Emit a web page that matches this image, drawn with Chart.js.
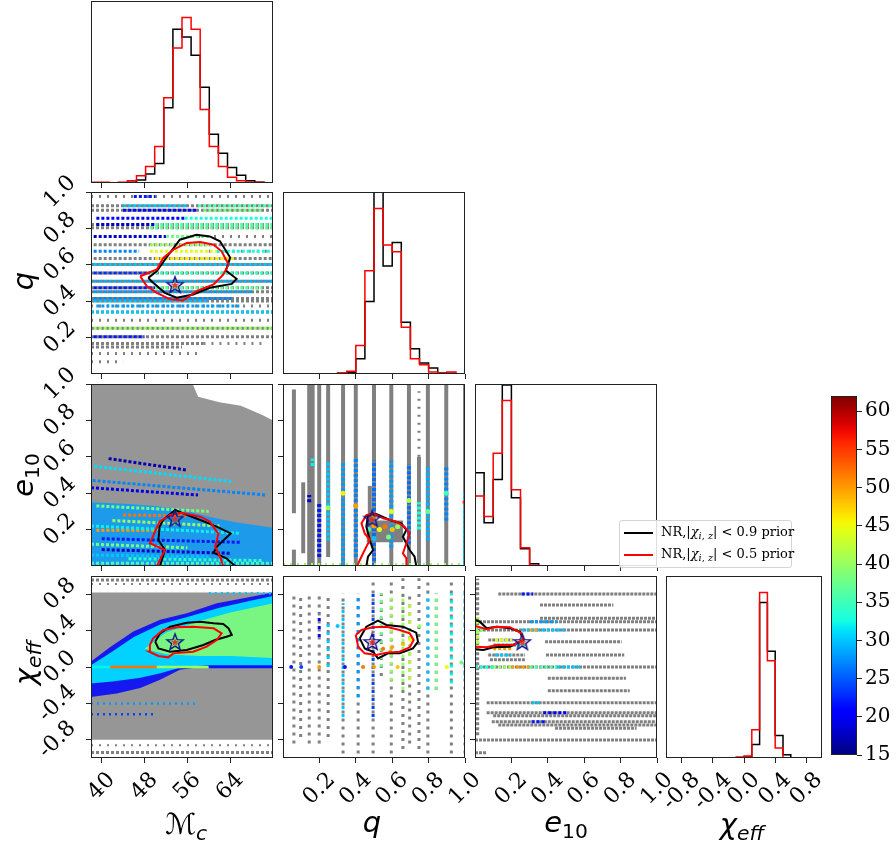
<!DOCTYPE html>
<html><head><meta charset="utf-8">
<script src="https://cdn.jsdelivr.net/npm/chart.js@4.4.1/dist/chart.umd.min.js"></script>
<style>
html,body{margin:0;padding:0;background:#fff;}
#wrap{position:relative;width:896px;height:841px;overflow:hidden;background:#fff;}
#wrap canvas{position:absolute;}
.lab{position:absolute;font-family:'DejaVu Sans';font-size:29px;color:#000;white-space:nowrap;line-height:1;}
.lab i{font-style:italic;}
.lab sub{font-size:0.7em;vertical-align:-0.3em;line-height:0;}
.vert{transform:translate(-50%,-50%) rotate(-90deg);}
.hor{transform:translate(-50%,-50%);}
#legend{position:absolute;left:619px;top:520px;width:173px;height:48px;border:1px solid #d4d4d4;border-radius:3px;background:rgba(255,255,255,0.85);font-family:'DejaVu Serif';font-size:13px;box-sizing:border-box;}
.lrow{position:absolute;left:0;height:20px;width:100%;}
.lline{position:absolute;left:4px;top:9px;width:29px;height:2px;}
.ltxt{position:absolute;left:41px;top:1px;white-space:nowrap;}
.ltxt sub{font-size:0.75em;vertical-align:-0.3em;line-height:0;}
</style></head><body><div id="wrap"></div>
<script>
// ---------------- DATA ----------------
const CB_MIN = 15, CB_MAX = 62;
const cbTicks = [15,20,25,30,35,40,45,50,55,60];

const mcTicks = [40,48,56,64];           const mcTickLabels = ['40','48','56','64'];
const qTicks = [0.2,0.4,0.6,0.8,1.0];    const qTickLabels = ['0.2','0.4','0.6','0.8','1.0'];
const eTicks = [0.2,0.4,0.6,0.8,1.0];    const eTickLabels = ['0.2','0.4','0.6','0.8','1.0'];
const chiTicks = [-0.8,-0.4,0.0,0.4,0.8]; const chiTickLabels = ['-0.8','-0.4','0.0','0.4','0.8'];

// truth (star)
const truthMc = 53.7, truthQ = 0.49, truthE = 0.26, truthChi = 0.275;

// histograms
const mcEdges = [38,39.7,41.4,43.1,44.8,46.5,48.2,49.9,51.6,53.3,55,56.7,58.4,60.1,61.8,63.5,65.2,66.9,68.6,70.3,72];
const mcHist09 = [0,0,0,0,2,9,27,59,227,464,440,385,289,147,90,47,23,7,2,0];
const mcHist05 = [2,2,0,2,7,22,50,110,257,407,499,464,222,110,50,17,7,2,2,0];
const qEdges = [0,0.05,0.1,0.15,0.2,0.25,0.3,0.35,0.4,0.45,0.5,0.55,0.6,0.65,0.7,0.75,0.8,0.85,0.9,0.95,1.0];
const qHist09 = [0,0,0,0,0,0,2,5,46,218,600,325,396,156,76,33,18,3,2,0];
const qHist05 = [0,0,0,0,0,1,3,8,86,311,498,388,368,141,46,28,6,3,6,0];
const eEdges = [0,0.05,0.1,0.15,0.2,0.25,0.3,0.35,0.4,0.45,0.5,0.55,0.6,0.65,0.7,0.75,0.8,0.85,0.9,0.95,1.0];
const eHist09 = [280,130,260,544,205,52,7,0,0,0,0,0,0,0,0,0,0,0,0,0];
const eHist05 = [210,149,339,497,229,55,2,0,0,0,0,0,0,0,0,0,0,0,0,0];
const chiEdges = [-1,-0.9,-0.8,-0.7,-0.6,-0.5,-0.4,-0.3,-0.2,-0.1,0,0.1,0.2,0.3,0.4,0.5,0.6,0.7,0.8,0.9,1.0];
const chiHist09 = [0,0,0,0,0,0,0,0,0,1,3,41,468,321,68,10,0,0,0,0];
const chiHist05 = [0,0,0,0,0,0,0,0,0,3,6,85,498,293,30,0,0,0,0,0];

// Panel A: Mc vs q (horizontal NR rows)
const aGrayQ    = [0.925,0.900,0.822,0.804,0.710,0.634,0.601,0.555,0.510,0.474,0.452,0.415,0.401,0.341,0.251,0.204,0.168,0.149];
const aGrayFrom = [38,38,38,38,38.5,38.5,38,38,38,38,38,38,38,38,38,38,38,38];
const aGrayTo   = [72,72,72,72,72,72,72,72,72,72,72,72,72,72,72,72,59,55];
const aSparseQ    = [0.975,0.756,0.674,0.373,0.295,0.168,0.113,0.067];
const aSparseFrom = [38,55,60,38,38,59,38,38];
const aSparseTo   = [72,72,72,72,72,70,58,44];
const aColQ    = [0.975,0.925,0.925,0.900,0.900,0.856,0.856,0.822,0.822,0.804,0.756,0.756,0.710,0.674,0.674,0.674,0.634,0.601,0.555,0.555,0.510,0.474,0.474,0.452,0.415,0.401,0.373,0.341,0.251,0.204];
const aColFrom = [46,44,58,44,59,39,55.5,39,50,49,38.5,52,49,38.5,49,61.5,50,38.5,38.5,49,38.5,38.5,50,38.5,38.5,38.5,39,38,38.5,38.5];
const aColTo   = [50,56,72,58,70,55.5,72,50,72,72,52,60,61,47,61.5,72,64.6,72,49,72,72,50,70,68,64.6,60,66,72,72,48];
const aColVal  = [22,30,36,20,38,21,33,18,36,37,18,38,40,27,44,33,46,30,23,35,29,22,37,28,27,30,28,30,40,22];
const aBlackMc = [48.7,50.3,52.1,54.6,57.7,60.2,62.1,64.0,63.2,65.2,64.3,60.2,57.1,54.0,51.8,49.3,48.7];
const aBlackQ  = [0.528,0.565,0.640,0.738,0.765,0.756,0.729,0.640,0.568,0.523,0.495,0.474,0.437,0.419,0.446,0.510,0.528];
const aRedMc = [47.2,50.3,51.5,53.4,55.9,58.4,60.9,62.4,63.7,62.7,60.9,57.7,55.2,52.8,50.3,48.4,47.2];
const aRedQ  = [0.537,0.574,0.638,0.683,0.720,0.725,0.710,0.674,0.601,0.546,0.492,0.455,0.404,0.410,0.446,0.483,0.537];

// Panel B: Mc vs e10
const bGrayMc = [38,38,57,58,62,66,70,72,72];
const bGrayE  = [0,1,1,0.93,0.90,0.88,0.83,0.80,0];
const bColMc = [38,45,50,55,60,65,72,72,38];
const bColE  = [0.35,0.34,0.33,0.31,0.27,0.24,0.21,0,0];
const bStreakMc1 = [41.3,38.6,38.3,38,39,44,39,38,42,38,38,40,38,40,45];
const bStreakE1  = [0.59,0.548,0.47,0.43,0.33,0.28,0.196,0.22,0.25,0.12,0.06,0.15,0.015,0.09,0.04];
const bStreakMc2 = [55.9,64.6,70.8,58,60,56,50,66,62,56,60,66,72,64,70];
const bStreakE2  = [0.527,0.463,0.39,0.39,0.30,0.275,0.196,0.18,0.22,0.10,0.05,0.13,0.015,0.07,0.03];
const bStreakVal = [17,31,27,19,38,52,50,32,40,38,30,22,35,18,34];
const bRedMc = [50.3,51.8,49.0,50.8,52.8,54.9,58.4,60.2,61.8,61.2,62.1,62.7];
const bRedE  = [0,0.088,0.125,0.244,0.280,0.293,0.271,0.244,0.176,0.106,0.051,0];
const bBlackMc = [50.9,51.8,50.6,50.8,51.5,53.7,55.2,58.4,61.5,64.1,61.5,60.9,63.3,64.9];
const bBlackE  = [0,0.088,0.143,0.216,0.253,0.308,0.289,0.253,0.216,0.179,0.106,0.073,0.042,0];

// Panel C: Mc vs chi_eff
const cGrayMc = [38,38,72,72];
const cGrayChi = [-0.80,0.82,0.82,-0.80];
const cRowChi  = [0.956,-0.94];
const cSparseChi = [0.912,-0.86];
const cOutMc  = [38,41.6,45.9,50.9,55.9,61.5,67.7,72,72,58.4,54.6,50.9,47.2,42.8,38];
const cOutChi = [0.06,0.22,0.39,0.52,0.59,0.70,0.77,0.82,0.0,0.0,-0.03,-0.14,-0.23,-0.29,-0.33];
const cMidMc  = [38,42,46,51,56,62,68,72,72,60,55,51,47,42,38];
const cMidChi = [0.02,0.17,0.33,0.47,0.55,0.65,0.73,0.78,0.02,0.02,0.0,-0.07,-0.12,-0.16,-0.18];
const cHiMc  = [48,52,58,64,72,72,64,58,52];
const cHiChi = [0.20,0.38,0.50,0.60,0.70,0.10,0.12,0.12,0.14];
const cRegionVal = [21,31,40];
const cSegMc1  = [38,41.6,50.3,60,60,38,38];
const cSegMc2  = [41.6,50.3,60,72,72,58,50];
const cSegChi  = [0,0,0,0,0.81,-0.40,-0.52];
const cSegVal  = [32,52,40,22,30,28,24];
const cBlackMc = [50.0,50.9,52.8,55.9,58.4,60.9,62.7,63.7,64.3,63.3,61.2,59.0,55.9,52.8,50.6,50.0];
const cBlackChi= [0.278,0.370,0.443,0.487,0.498,0.480,0.473,0.425,0.352,0.333,0.297,0.242,0.187,0.168,0.205,0.278];
const cRedMc = [49.0,49.6,51.5,54.0,57.1,60.9,62.4,61.5,59.6,57.1,53.4,52.4,50.6,48.9,49.0];
const cRedChi= [0.242,0.315,0.407,0.436,0.443,0.425,0.370,0.297,0.223,0.168,0.150,0.106,0.121,0.168,0.242];

// Panel D: q vs e10 (vertical NR columns)
const dGrayQ    = [0.06,0.06,0.111,0.144,0.163,0.199,0.248,0.33,0.40,0.477,0.50,0.595,0.692,0.747,0.796,0.897,1.0];
const dGrayFrom = [0.29,0,0.07,0,0,0,0.05,0,0,0.12,0,0,0,0,0,0,0];
const dGrayTo   = [0.97,0.09,0.46,1,1,1,1,1,1,0.44,1,1,1,0.6,1,1,1];
const dSparseQ = [0.747]; const dSparseFrom = [0.6]; const dSparseTo = [0.96];
const dColQ    = [0.248,0.33,0.40,0.50,0.595,0.692,0.747,0.796,0.897,0.199,1.0,0.163,0.144];
const dColFrom = [0.14,0.0,0.05,0.0,0.10,0.12,0.20,0.14,0.25,0.05,0.0,0.55,0.35];
const dColTo   = [0.57,0.57,0.59,0.58,0.58,0.56,0.35,0.55,0.55,0.35,0.40,0.59,0.39];
const dColVal  = [30,28,27,26,28,26,33,29,27,22,30,32,18];
const dBlobQ = [0.46,0.66,0.66,0.46];
const dBlobE = [0.13,0.13,0.25,0.25];
const dPtQ   = [0.50,0.53,0.56,0.60,0.63,0.47,0.50,0.58,0.40,0.33,0.50,0.595,0.692,0.248,0.796,0.897,1.0];
const dPtE   = [0.22,0.20,0.215,0.20,0.215,0.20,0.15,0.16,0.33,0.40,0.27,0.30,0.36,0.32,0.30,0.40,0.35];
const dPtVal = [50,45,52,48,40,35,30,38,50,46,48,44,42,40,38,35,55];
const dBottomE = 0.008;
const dRedQ = [0.407,0.440,0.477,0.449,0.431,0.458,0.495,0.550,0.623,0.668,0.696,0.678,0.659,0.678,0.678];
const dRedE = [0,0.070,0.143,0.179,0.234,0.280,0.289,0.262,0.244,0.216,0.179,0.125,0.070,0.042,0];
const dBlackQ = [0.458,0.467,0.495,0.477,0.458,0.467,0.513,0.586,0.650,0.678,0.659,0.696,0.723,0.732];
const dBlackE = [0,0.051,0.088,0.143,0.216,0.280,0.286,0.253,0.234,0.198,0.161,0.088,0.051,0];

// Panel E: q vs chi_eff
const eGrayQ    = [0.06,0.097,0.144,0.199,0.248,0.33,0.413,0.495,0.54,0.595,0.659,0.696,0.747,0.796,0.842,0.925,1.0];
const eGrayFrom = [-0.84,-0.77,-0.84,-0.84,-0.77,-0.95,-0.95,-0.95,-0.10,-0.95,-0.90,-0.84,-0.90,-0.95,-0.25,-0.95,-0.95];
const eGrayTo   = [0.81,0.78,0.81,0.81,0.81,0.81,0.81,0.975,0.81,0.975,0.975,0.81,0.975,0.975,0.81,0.975,0.975];
const eColQ    = [0.199,0.248,0.33,0.413,0.495,0.54,0.595,0.659,0.696,0.796,0.842,0.925,1.0];
const eColFrom = [0.33,0.0,-0.55,-0.33,-0.55,0.0,-0.15,-0.25,-0.14,-0.25,-0.25,-0.18,-0.10];
const eColTo   = [0.60,0.52,0.70,0.81,0.81,0.81,0.81,0.81,0.70,0.81,0.81,0.81,0.81];
const eColVal  = [20,30,30,28,24,38,40,40,42,30,38,32,30];
const ePtQ   = [0.199,0.10,0.045,0.44,0.50,0.63,0.90,0.55,0.60,0.66,0.70,0.59,0.30,0.34,0.75,0.98];
const ePtChi = [0.0,0.0,0.0,0.0,0.0,0.0,0.0,0.20,0.22,0.25,0.30,0.17,0.45,0.0,0.45,0.05];
const ePtVal = [50,24,22,52,50,48,45,52,50,48,45,50,30,22,40,38];
const eBlackQ = [0.422,0.458,0.522,0.568,0.659,0.732,0.742,0.714,0.641,0.577,0.522,0.495,0.449,0.422];
const eBlackChi=[0.315,0.443,0.509,0.462,0.443,0.377,0.278,0.205,0.150,0.150,0.095,0.168,0.205,0.315];
const eRedQ = [0.400,0.431,0.495,0.568,0.641,0.696,0.718,0.696,0.641,0.568,0.513,0.449,0.413,0.400];
const eRedChi=[0.352,0.407,0.436,0.443,0.407,0.370,0.297,0.216,0.168,0.158,0.132,0.150,0.223,0.352];

// Panel F: e10 vs chi_eff
const fGrayChi  = [0.802,0.681,0.535,0.498,0.407,0.297,0.278,0.242,0.132,0.132,0.08,0.0,-0.124,-0.26,-0.392,-0.502,-0.535,-0.601,-0.637,-0.674,-0.802,-0.941];
const fGrayFrom = [0.128,0.357,0.357,0.0,0.0,0.073,0.385,0.101,0.073,0.39,0.082,0.0,0.40,0.40,0.064,0.064,0.10,0.092,0.128,0.44,0.0,0.0];
const fGrayTo   = [1.0,0.76,1.0,1.0,1.0,0.211,0.806,0.284,0.275,0.82,0.275,1.0,0.83,0.85,1.0,1.0,1.0,1.0,1.0,0.888,1.0,0.064];
const fColChi  = [0.802,0.498,0.407,0.407,0.407,0.0,0.0,0.0,0.0,0.0,-0.392,-0.502,-0.601,0.297,0.242,0.20,0.132];
const fColFrom = [0.256,0.302,0.0,0.256,0.30,0.0,0.10,0.20,0.30,0.45,0.311,0.375,0.311,0.11,0.12,0.10,0.11];
const fColTo   = [0.32,0.449,0.06,0.504,0.35,0.10,0.20,0.30,0.45,0.577,0.366,0.504,0.394,0.20,0.28,0.20,0.20];
const fColVal  = [22,28,38,30,50,33,40,50,36,30,30,20,22,44,32,50,30];
const fEdgeE = 0.012; const fEdgeFrom = -0.75; const fEdgeTo = 0.97;
const fEdgeColFrom = 0.2; const fEdgeColTo = 0.55; const fEdgeColVal = 42;
const fBlackE = [0,0.027,0.064,0.119,0.192,0.247,0.266,0.192,0.101,0.046,0];
const fBlackChi=[0.516,0.498,0.425,0.443,0.425,0.388,0.297,0.223,0.216,0.187,0.194];
const fRedE = [0,0.064,0.119,0.192,0.256,0.266,0.211,0.119,0.064,0];
const fRedChi=[0.451,0.414,0.443,0.437,0.370,0.300,0.242,0.242,0.216,0.223];

// ---------------- HELPERS ----------------
const GRAY = 'rgb(128,128,128)';
const GRAYFILL = 'rgb(150,150,150)';
const JR=[[0,0],[0.35,0],[0.66,1],[0.89,1],[1,0.5]];
const JG=[[0,0],[0.125,0],[0.375,1],[0.64,1],[0.91,0],[1,0]];
const JB=[[0,0.5],[0.11,1],[0.34,1],[0.65,0],[1,0]];
function interp(tab,t){for(let i=1;i<tab.length;i++){if(t<=tab[i][0]){const a=tab[i-1],b=tab[i];return a[1]+(b[1]-a[1])*(t-a[0])/(b[0]-a[0]);}}return tab[tab.length-1][1];}
function jetT(t,a){return `rgba(${Math.round(255*interp(JR,t))},${Math.round(255*interp(JG,t))},${Math.round(255*interp(JB,t))},${a==null?1:a})`;}
function jet(v,a){return jetT(Math.max(0,Math.min(1,(v-CB_MIN)/(CB_MAX-CB_MIN))),a);}

function lineDs(pts,color,width,dash){return {data:pts,borderColor:color,backgroundColor:color,borderWidth:width,borderDash:dash||[],pointRadius:0,fill:false,tension:0,clip:0,borderCapStyle:'butt'};}
function pts(xs,ys){return xs.map((x,i)=>({x:x,y:ys[i]}));}
function hRows(ys,from,to,colorFn,width,dash){return ys.map((y,i)=>lineDs([{x:from[i],y:y},{x:to[i],y:y}],colorFn(i),width,dash));}
function vRows(xs,from,to,colorFn,width,dash){return xs.map((x,i)=>lineDs([{x:x,y:from[i]},{x:x,y:to[i]}],colorFn(i),width,dash));}
function polyDs(xs,ys,fillColor){return {data:pts(xs,ys),borderColor:'rgba(0,0,0,0)',backgroundColor:fillColor,borderWidth:0,fill:'shape',pointRadius:0,tension:0,clip:0};}
function contourDs(xs,ys,color){return lineDs(pts(xs,ys),color,2);}
function dotsDs(xs,ys,vals,r){return {data:pts(xs,ys),showLine:false,pointRadius:r,pointBorderWidth:0,pointBackgroundColor:vals.map(v=>jet(v)),borderColor:'rgba(0,0,0,0)',clip:0};}
function histDs(edges,counts,color){
  const d=[{x:edges[0],y:0}];
  counts.forEach((c,i)=>d.push({x:edges[i],y:c}));
  d.push({x:edges[edges.length-1],y:counts[counts.length-1]});
  d.push({x:edges[edges.length-1],y:0});
  return {data:d,stepped:true,borderColor:color,borderWidth:1.5,pointRadius:0,fill:false,clip:0};
}
// star marker image
const starImg=(function(){const c=document.createElement('canvas');c.width=20;c.height=20;const g=c.getContext('2d');
  function star(R,r){g.beginPath();for(let k=0;k<10;k++){const rr=k%2?r:R;const a=-Math.PI/2+k*Math.PI/5;g.lineTo(10+rr*Math.cos(a),10.5+rr*Math.sin(a));}g.closePath();}
  star(4.2,1.8);g.fillStyle='rgba(230,40,20,0.9)';g.fill();
  star(8.6,3.6);g.strokeStyle='#14148a';g.lineWidth=1.4;g.stroke();return c;})();
function starDs(x,y){return {data:[{x:x,y:y}],showLine:false,pointStyle:starImg,pointRadius:10,borderWidth:0,clip:false};}

const wrap=document.getElementById('wrap');
const PL=90,PR=30,PT=30,PB=80;

function framePlugin(info){
  return {id:'frameLabels',afterDraw(chart){
    const ctx=chart.ctx,ca=chart.chartArea;ctx.save();
    ctx.strokeStyle='#222';ctx.lineWidth=1;
    ctx.strokeRect(Math.round(ca.left)+0.5,Math.round(ca.top)+0.5,Math.round(ca.right-ca.left)-1,Math.round(ca.bottom-ca.top)-1);
    const F=22;ctx.font=F+"px 'DejaVu Serif'";ctx.fillStyle='#000';ctx.textAlign='center';ctx.textBaseline='middle';
    const R=Math.SQRT1_2;
    if(info&&info.xl){const s=chart.scales.x;info.xl.forEach((t,i)=>{const w=ctx.measureText(t).width;const b=(w+F*1.1)*R;const px=s.getPixelForValue(info.xv[i]);
      ctx.save();ctx.translate(px,ca.bottom+10+b/2);ctx.rotate(-Math.PI/4);ctx.fillText(t,0,0);ctx.restore();});}
    if(info&&info.yl){const s=chart.scales.y;info.yl.forEach((t,i)=>{const w=ctx.measureText(t).width;const b=(w+F*1.1)*R;const py=s.getPixelForValue(info.yv[i]);
      ctx.save();ctx.translate(ca.left-10-b/2,py);ctx.rotate(-Math.PI/4);ctx.fillText(t,0,0);ctx.restore();});}
    ctx.restore();}};
}
function axis(min,max,ticks,isX,showTicks){
  return {type:'linear',min:min,max:max,display:true,
    afterBuildTicks:s=>{s.ticks=(ticks||[]).map(v=>({value:v}));},
    afterFit:s=>{if(isX)s.height=PB;else s.width=PL;},
    ticks:{display:false},
    grid:{display:showTicks,drawOnChartArea:false,drawTicks:true,tickLength:5,color:'#222',lineWidth:1},
    border:{display:false}};
}
function makeChart(left,top,w,h,datasets,xs,ys,info){
  const cv=document.createElement('canvas');const W=w+PL+PR,H=h+PT+PB;
  cv.width=W;cv.height=H;cv.style.left=(left-PL)+'px';cv.style.top=(top-PT)+'px';cv.style.width=W+'px';cv.style.height=H+'px';
  wrap.appendChild(cv);
  datasets.forEach((d,i)=>{d.order=datasets.length-i;});
  return new Chart(cv,{type:'line',data:{datasets:datasets},
    options:{responsive:false,animation:false,events:[],devicePixelRatio:1,
      layout:{padding:{top:PT,right:PR,left:0,bottom:0}},
      plugins:{legend:{display:false},tooltip:{enabled:false}},
      scales:{x:xs,y:ys}},
    plugins:[framePlugin(info)]});
}

const col=[91,283,475,666], cw=[182,182,182,156];
const row=[1,192,384,576], rh=182;
const MC=[38,72], Q=[0,1], E=[0,1], CH=[-1,1];
const GD=[3,2], SD=[2,6];

// ---- Diagonal histograms ----
makeChart(col[0],row[0],cw[0],rh,[histDs(mcEdges,mcHist09,'#000'),histDs(mcEdges,mcHist05,'#ff0000')],
  axis(MC[0],MC[1],mcTicks,true,true),axis(0,1.1*Math.max(...mcHist05),[],false,false),null);
makeChart(col[1],row[1],cw[1],rh,[histDs(qEdges,qHist09,'#000'),histDs(qEdges,qHist05,'#ff0000')],
  axis(Q[0],Q[1],qTicks,true,true),axis(0,1.1*Math.max(...qHist05),[],false,false),null);
makeChart(col[2],row[2],cw[2],rh,[histDs(eEdges,eHist09,'#000'),histDs(eEdges,eHist05,'#ff0000')],
  axis(E[0],E[1],eTicks,true,true),axis(0,1.1*Math.max(...eHist05),[],false,false),null);
makeChart(col[3],row[3],cw[3],rh,[histDs(chiEdges,chiHist09,'#000'),histDs(chiEdges,chiHist05,'#ff0000')],
  axis(CH[0],CH[1],chiTicks,true,true),axis(0,1.1*Math.max(...chiHist05),[],false,false),{xl:chiTickLabels,xv:chiTicks});

// ---- Panel A: Mc vs q ----
{
  const ds=[];
  ds.push(...hRows(aGrayQ,aGrayFrom,aGrayTo,()=>GRAY,3,GD));
  ds.push(...hRows(aSparseQ,aSparseFrom,aSparseTo,()=>GRAY,3,SD));
  ds.push(...hRows(aColQ,aColFrom,aColTo,i=>jet(aColVal[i]),3,[3,2]));
  ds.push(contourDs(aBlackMc,aBlackQ,'#000'));
  ds.push(contourDs(aRedMc,aRedQ,'#ff0000'));
  ds.push(starDs(truthMc,truthQ));
  makeChart(col[0],row[1],cw[0],rh,ds,axis(MC[0],MC[1],mcTicks,true,true),axis(Q[0],Q[1],qTicks,false,true),{yl:qTickLabels,yv:qTicks});
}
// ---- Panel B: Mc vs e10 ----
{
  const ds=[];
  ds.push(polyDs(bGrayMc,bGrayE,GRAYFILL));
  ds.push(polyDs(bColMc,bColE,jet(28,0.8)));
  ds.push(...bStreakVal.map((v,i)=>lineDs([{x:bStreakMc1[i],y:bStreakE1[i]},{x:bStreakMc2[i],y:bStreakE2[i]}],jet(v),3,[3,2])));
  ds.push(contourDs(bBlackMc,bBlackE,'#000'));
  ds.push(contourDs(bRedMc,bRedE,'#ff0000'));
  ds.push(starDs(truthMc,truthE));
  makeChart(col[0],row[2],cw[0],rh,ds,axis(MC[0],MC[1],mcTicks,true,true),axis(E[0],E[1],eTicks,false,true),{yl:eTickLabels,yv:eTicks});
}
// ---- Panel C: Mc vs chi ----
{
  const ds=[];
  ds.push(polyDs(cGrayMc,cGrayChi,GRAYFILL));
  ds.push(...hRows(cRowChi,[38,38],[72,72],()=>GRAY,3,GD));
  ds.push(...hRows(cSparseChi,[38,38],[72,72],()=>GRAY,2,SD));
  ds.push(polyDs(cOutMc,cOutChi,jet(cRegionVal[0],0.85)));
  ds.push(polyDs(cMidMc,cMidChi,jet(cRegionVal[1],0.95)));
  ds.push(polyDs(cHiMc,cHiChi,jet(cRegionVal[2],0.8)));
  ds.push(...cSegVal.map((v,i)=>lineDs([{x:cSegMc1[i],y:cSegChi[i]},{x:cSegMc2[i],y:cSegChi[i]}],jet(v),2.5,i>=4?[2,4]:[])));
  ds.push(contourDs(cBlackMc,cBlackChi,'#000'));
  ds.push(contourDs(cRedMc,cRedChi,'#ff0000'));
  ds.push(starDs(truthMc,truthChi));
  makeChart(col[0],row[3],cw[0],rh,ds,axis(MC[0],MC[1],mcTicks,true,true),axis(CH[0],CH[1],chiTicks,false,true),
    {xl:mcTickLabels,xv:mcTicks,yl:chiTickLabels,yv:chiTicks});
}
// ---- Panel D: q vs e10 ----
{
  const ds=[];
  ds.push(...vRows(dGrayQ,dGrayFrom,dGrayTo,()=>GRAY,4,[]));
  ds.push(...vRows(dSparseQ,dSparseFrom,dSparseTo,()=>GRAY,3,SD));
  ds.push(polyDs(dBlobQ,dBlobE,GRAY));
  ds.push(...vRows(dColQ,dColFrom,dColTo,i=>jet(dColVal[i]),4,[3,2]));
  ds.push(lineDs([{x:0,y:dBottomE},{x:1,y:dBottomE}],jet(40),3,[2,5]));
  ds.push(dotsDs(dPtQ,dPtE,dPtVal,2.5));
  ds.push(contourDs(dBlackQ,dBlackE,'#000'));
  ds.push(contourDs(dRedQ,dRedE,'#ff0000'));
  ds.push(starDs(truthQ,truthE));
  makeChart(col[1],row[2],cw[1],rh,ds,axis(Q[0],Q[1],qTicks,true,true),axis(E[0],E[1],eTicks,false,true),null);
}
// ---- Panel E: q vs chi ----
{
  const ds=[];
  ds.push(...vRows(eGrayQ,eGrayFrom,eGrayTo,()=>GRAY,3,[3,5]));
  ds.push(...vRows(eColQ,eColFrom,eColTo,i=>jet(eColVal[i]),3,[3,5]));
  ds.push(dotsDs(ePtQ,ePtChi,ePtVal,2));
  ds.push(contourDs(eBlackQ,eBlackChi,'#000'));
  ds.push(contourDs(eRedQ,eRedChi,'#ff0000'));
  ds.push(starDs(truthQ,truthChi));
  makeChart(col[1],row[3],cw[1],rh,ds,axis(Q[0],Q[1],qTicks,true,true),axis(CH[0],CH[1],chiTicks,false,true),{xl:qTickLabels,xv:qTicks});
}
// ---- Panel F: e10 vs chi ----
{
  const ds=[];
  ds.push(...hRows(fGrayChi,fGrayFrom,fGrayTo,()=>GRAY,3,[3,1]));
  ds.push(lineDs([{x:fEdgeE,y:fEdgeFrom},{x:fEdgeE,y:fEdgeTo}],GRAY,4,[3,2]));
  ds.push(lineDs([{x:fEdgeE,y:fEdgeColFrom},{x:fEdgeE,y:fEdgeColTo}],jet(fEdgeColVal),4,[3,2]));
  ds.push(...hRows(fColChi,fColFrom,fColTo,i=>jet(fColVal[i]),3,[3,2]));
  ds.push(contourDs(fBlackE,fBlackChi,'#000'));
  ds.push(contourDs(fRedE,fRedChi,'#ff0000'));
  ds.push(starDs(truthE,truthChi));
  makeChart(col[2],row[3],cw[2],rh,ds,axis(E[0],E[1],eTicks,true,true),axis(CH[0],CH[1],chiTicks,false,true),{xl:eTickLabels,xv:eTicks});
}
// ---- Colorbar ----
{
  const cv=document.createElement('canvas');const W=86,H=389;
  cv.width=W;cv.height=H;cv.style.left='831px';cv.style.top='381px';cv.style.width=W+'px';cv.style.height=H+'px';
  wrap.appendChild(cv);
  new Chart(cv,{type:'bar',data:{labels:[''],datasets:[{data:[[CB_MIN,CB_MAX]],borderWidth:0,barPercentage:1,categoryPercentage:1,
    backgroundColor:(c)=>{const ch=c.chart,ca=ch.chartArea;if(!ca)return '#888';const g=ch.ctx.createLinearGradient(0,ca.bottom,0,ca.top);
      for(let k=0;k<=40;k++){g.addColorStop(k/40,jetT(k/40));}return g;}}]},
    options:{responsive:false,animation:false,events:[],devicePixelRatio:1,
      layout:{padding:{top:12,bottom:12,left:0,right:0}},
      plugins:{legend:{display:false},tooltip:{enabled:false}},
      scales:{x:{display:false},
        y:{position:'right',min:CB_MIN,max:CB_MAX,afterBuildTicks:s=>{s.ticks=cbTicks.map(v=>({value:v}));},
          afterFit:s=>{s.width=60;},
          ticks:{font:{family:'DejaVu Serif',size:20},color:'#000',padding:3},
          grid:{drawOnChartArea:false,tickLength:5,color:'#222'},border:{display:false}}}},
    plugins:[framePlugin(null)]});
}
</script>
<div class="lab vert" style="left:23px;top:281px;"><i>q</i></div>
<div class="lab vert" style="left:23px;top:475px;"><i>e</i><sub>10</sub></div>
<div class="lab vert" style="left:25px;top:663px;"><i>χ</i><sub><i>eff</i></sub></div>
<div class="lab hor" style="left:186px;top:824px;">ℳ<sub><i>c</i></sub></div>
<div class="lab hor" style="left:372px;top:822px;"><i>q</i></div>
<div class="lab hor" style="left:566px;top:822px;"><i>e</i><sub>10</sub></div>
<div class="lab hor" style="left:742px;top:824px;"><i>χ</i><sub><i>eff</i></sub></div>
<div id="legend">
  <div class="lrow" style="top:2px;"><span class="lline" style="background:#000;"></span><span class="ltxt">NR,|<i>χ</i><sub><i>i</i>, <i>z</i></sub>| &lt; 0.9 prior</span></div>
  <div class="lrow" style="top:24px;"><span class="lline" style="background:#ff0000;"></span><span class="ltxt">NR,|<i>χ</i><sub><i>i</i>, <i>z</i></sub>| &lt; 0.5 prior</span></div>
</div>
</body></html>
